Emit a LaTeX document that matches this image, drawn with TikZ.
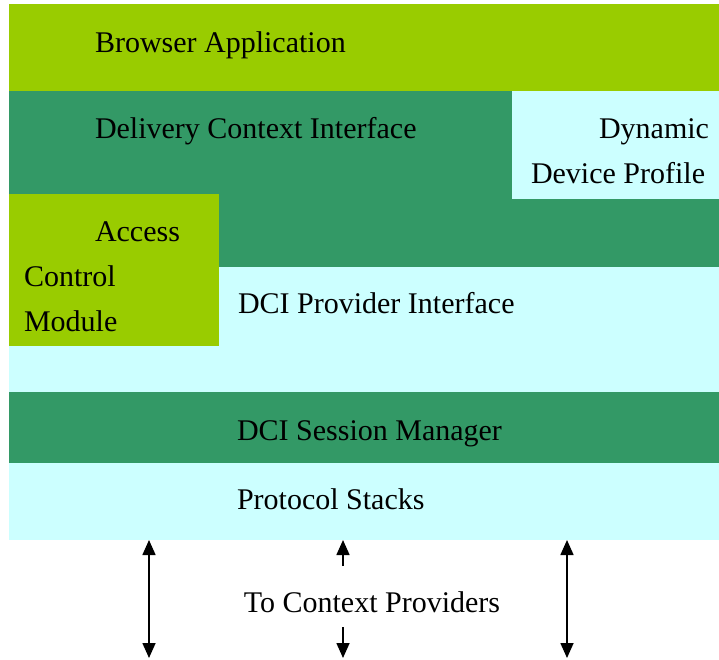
\documentclass[tikz,border=0pt]{standalone}
\usepackage{fontspec}
\setmainfont{Liberation Serif}
\usetikzlibrary{arrows.meta}
\definecolor{limegreen}{HTML}{99CC00}
\definecolor{seagreen}{HTML}{339966}
\definecolor{palecyan}{HTML}{CCFFFF}
\tikzset{
  layer/.style={rectangle, inner sep=0pt, outer sep=0pt, draw=none, anchor=north west},
  lbl/.style={inner sep=0pt, outer sep=0pt, font=\fontsize{30}{36}\selectfont, text=black},
  tip/.style={Triangle[length=15pt,width=13pt]},
  link/.style={line width=1.6pt, -{Triangle[length=15pt,width=13pt]}},
  dlink/.style={line width=1.6pt, {Triangle[length=15pt,width=13pt]}-{Triangle[length=15pt,width=13pt]}},
}
\begin{document}
\begin{tikzpicture}[x=1pt, y=-1pt]
  \useasboundingbox[fill=white] (0,0) rectangle (719,659);

  % layer stack, back to front
  \node[layer, fill=palecyan, minimum width=710pt, minimum height=449pt] (base) at (9,91) {};
  \node[layer, fill=limegreen, minimum width=710pt, minimum height=87pt] (browser) at (9,4) {};
  \node[layer, fill=seagreen, minimum width=710pt, minimum height=176pt] (dci) at (9,91) {};
  \node[layer, fill=palecyan, minimum width=207pt, minimum height=108pt] (ddp) at (512,91) {};
  \node[layer, fill=limegreen, minimum width=210pt, minimum height=152pt] (acm) at (9,194) {};
  \node[layer, fill=seagreen, minimum width=710pt, minimum height=71pt] (session) at (9,392) {};
  \node[layer, fill=palecyan, minimum width=710pt, minimum height=77pt] (stacks) at (9,463) {};

  % labels
  \node[lbl, anchor=base west] (tBrowser) at (95,52) {Browser Application};
  \node[lbl, anchor=base west] (tDci) at (95,138) {Delivery Context Interface};
  \node[lbl, anchor=base east] (tDyn) at (709,138) {Dynamic};
  \node[lbl, anchor=base west] (tDev) at (531,183) {Device Profile};
  \node[lbl, anchor=base west] (tAccess) at (95,241) {Access};
  \node[lbl, anchor=base west] (tControl) at (24,286) {Control};
  \node[lbl, anchor=base west] (tModule) at (24,331) {Module};
  \node[lbl, anchor=base west] (tProv) at (238,313) {DCI Provider Interface};
  \node[lbl, anchor=base west] (tSess) at (237,440) {DCI Session Manager};
  \node[lbl, anchor=base west] (tStacks) at (237,509) {Protocol Stacks};
  \node[lbl, anchor=base] (tCp) at (372,612) {To Context Providers};

  % connections to the context providers
  \coordinate (lTop) at (149,540);
  \coordinate (lBot) at (149,658);
  \coordinate (mTop) at (343,540);
  \coordinate (mUp) at (343,566);
  \coordinate (mDown) at (343,627);
  \coordinate (mBot) at (343,658);
  \coordinate (rTop) at (567,540);
  \coordinate (rBot) at (567,658);

  \draw[dlink] (lTop) -- (lBot);
  \draw[link] (mUp) -- (mTop);
  \draw[link] (mDown) -- (mBot);
  \draw[dlink] (rTop) -- (rBot);
\end{tikzpicture}
\end{document}
